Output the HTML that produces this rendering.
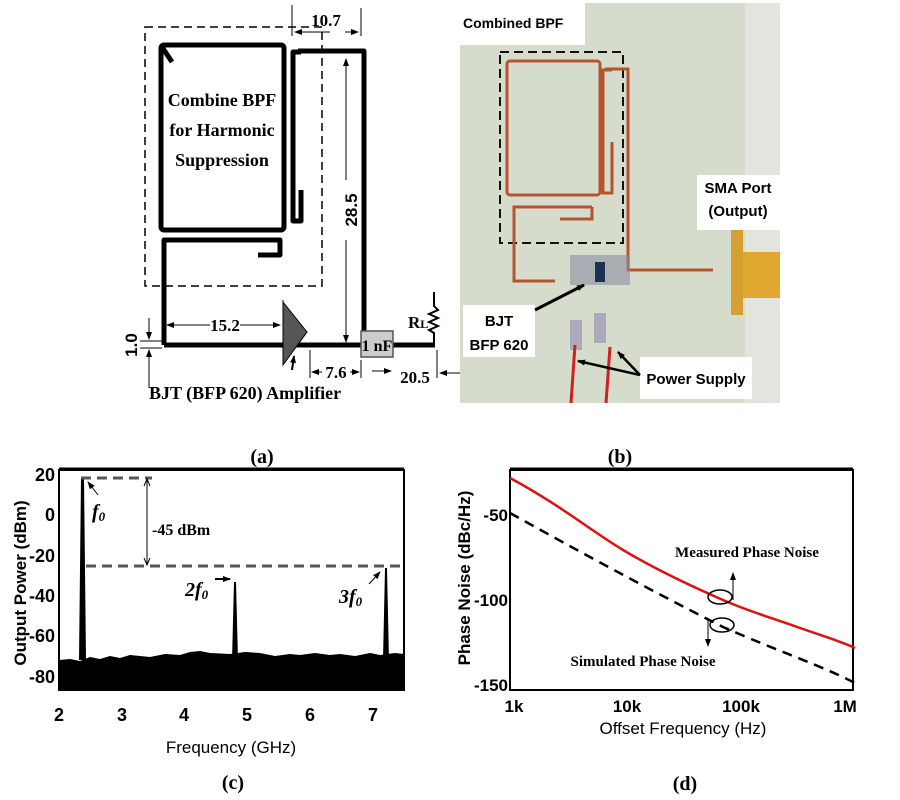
<!DOCTYPE html>
<html><head><meta charset="utf-8"><style>
html,body{margin:0;padding:0;background:#fff;}
svg{display:block;}
.ser{font-family:"Liberation Serif",serif;font-weight:bold;}
.san{font-family:"Liberation Sans",sans-serif;font-weight:bold;}
</style></head><body>
<svg width="900" height="800" viewBox="0 0 900 800" xmlns="http://www.w3.org/2000/svg">
<defs>
<marker id="ar" markerWidth="8" markerHeight="8" refX="7" refY="4" orient="auto" markerUnits="userSpaceOnUse"><path d="M0,1 L8,4 L0,7 Z" fill="#000"/></marker>
</defs>
<!-- (a) schematic -->
<rect x="145" y="27" width="177" height="259" fill="none" stroke="#000" stroke-width="1.5" stroke-dasharray="8,5"/>
<g fill="none" stroke="#000" stroke-width="5" stroke-linejoin="round">
<rect x="161" y="45" width="123" height="185" rx="3"/>
<line x1="162" y1="47" x2="172" y2="62"/>
<path d="M301,52 L293,52 L293,221 L301,221 L301,190"/>
<path d="M298,51 L364,51 L364,345"/>
<path d="M164,345 L164,240 L280,240 L280,255 L258,255"/>
<line x1="164" y1="345" x2="435" y2="345"/>
</g>
<polygon points="283,302 307,332 283,365" fill="#555" stroke="#000" stroke-width="1"/>
<rect x="361" y="331" width="32" height="26" fill="#ccc" stroke="#555" stroke-width="1.5"/>
<text x="377" y="351" class="ser" font-size="16" text-anchor="middle" font-weight="normal">1 nF</text>
<path d="M434,343 L434,333 L429,330 L438,326 L429,322 L438,318 L429,314 L438,310 L434,306 L434,292" fill="none" stroke="#000" stroke-width="2"/>
<text x="408" y="328" class="ser" font-size="17">R<tspan font-size="12">L</tspan></text>
<text x="222" y="106" class="ser" font-size="18" text-anchor="middle">Combine BPF</text>
<text x="222" y="136" class="ser" font-size="18" text-anchor="middle">for Harmonic</text>
<text x="222" y="166" class="ser" font-size="18" text-anchor="middle">Suppression</text>
<!-- dimensions -->
<line x1="292" y1="5" x2="292" y2="36" stroke="#000"/><line x1="361" y1="8" x2="361" y2="36" stroke="#000"/>
<line x1="330" y1="32" x2="295" y2="32" stroke="#000" marker-end="url(#ar)"/><line x1="345" y1="32" x2="358" y2="32" stroke="#000" marker-end="url(#ar)"/>
<text x="326" y="26" class="ser" font-size="17" text-anchor="middle">10.7</text>
<line x1="346" y1="180" x2="346" y2="59" stroke="#000" marker-end="url(#ar)"/><line x1="346" y1="240" x2="346" y2="342" stroke="#000" marker-end="url(#ar)"/>
<text transform="translate(357,210) rotate(-90)" class="san" font-size="17" text-anchor="middle">28.5</text>
<line x1="210" y1="325" x2="167" y2="325" stroke="#000" marker-end="url(#ar)"/><line x1="240" y1="325" x2="280" y2="325" stroke="#000" marker-end="url(#ar)"/>
<text x="225" y="331" class="ser" font-size="17" text-anchor="middle">15.2</text>
<line x1="283" y1="300" x2="283" y2="320" stroke="#000"/>
<line x1="310" y1="350" x2="310" y2="378" stroke="#000"/><line x1="361" y1="360" x2="361" y2="378" stroke="#000"/>
<line x1="322" y1="372" x2="312" y2="372" stroke="#000" marker-end="url(#ar)"/><line x1="350" y1="372" x2="359" y2="372" stroke="#000" marker-end="url(#ar)"/>
<text x="336" y="378" class="ser" font-size="17" text-anchor="middle">7.6</text>
<line x1="372" y1="371" x2="391" y2="371" stroke="#000" marker-end="url(#ar)"/>
<line x1="460" y1="373" x2="440" y2="373" stroke="#000" marker-end="url(#ar)"/>
<line x1="437" y1="350" x2="437" y2="378" stroke="#000"/>
<text x="415" y="383" class="ser" font-size="17" text-anchor="middle">20.5</text>
<line x1="292" y1="370" x2="294" y2="356" stroke="#000" stroke-width="2" marker-end="url(#ar)"/>
<line x1="140" y1="341" x2="162" y2="341" stroke="#000"/><line x1="140" y1="348" x2="162" y2="348" stroke="#000"/>
<line x1="149" y1="318" x2="149" y2="339" stroke="#000" marker-end="url(#ar)"/><line x1="149" y1="388" x2="149" y2="350" stroke="#000" marker-end="url(#ar)"/>
<text transform="translate(137,345) rotate(-90)" class="san" font-size="17" text-anchor="middle">1.0</text>
<text x="149" y="399" class="ser" font-size="18">BJT (BFP 620) Amplifier</text>
<!-- (b) photo -->
<rect x="460" y="3" width="320" height="400" fill="#d6dccc"/>
<rect x="745" y="3" width="35" height="400" fill="#e2e4de"/>
<rect x="500" y="52" width="123" height="191" fill="none" stroke="#111" stroke-width="2" stroke-dasharray="9,5"/>
<g fill="none" stroke="#b5532e" stroke-width="3">
<rect x="507" y="61" width="93" height="134" rx="3"/>
<path d="M612,70 L603,70 L603,193 L612,193 L612,142"/>
<path d="M605,69 L628,69 L628,270 L713,270"/>
<path d="M592,207 L514,207 L514,281 L555,281"/>
<path d="M592,207 L592,219 L560,219"/>
</g>
<rect x="570" y="255" width="60" height="30" fill="#8890a0" opacity="0.6"/>
<rect x="595" y="262" width="10" height="20" fill="#203050"/>
<rect x="731" y="230" width="12" height="85" fill="#d6a030"/>
<rect x="743" y="252" width="37" height="46" fill="#e0a830"/>
<rect x="570" y="320" width="12" height="30" fill="#aab"/><rect x="594" y="313" width="12" height="30" fill="#aab"/>
<path d="M575,345 L571,403 M610,347 L606,403" stroke="#d02020" stroke-width="3" fill="none"/>
<rect x="460" y="3" width="125" height="42" fill="#fff"/>
<text x="463" y="28" class="san" font-size="14">Combined BPF</text>
<rect x="697" y="175" width="83" height="55" fill="#fff"/>
<text x="738" y="193" class="san" font-size="15" text-anchor="middle">SMA Port</text>
<text x="738" y="216" class="san" font-size="15" text-anchor="middle">(Output)</text>
<rect x="463" y="305" width="72" height="52" fill="#fff"/>
<text x="499" y="326" class="san" font-size="15" text-anchor="middle">BJT</text>
<text x="499" y="350" class="san" font-size="15" text-anchor="middle">BFP 620</text>
<rect x="640" y="357" width="112" height="42" fill="#fff"/>
<text x="696" y="384" class="san" font-size="15" text-anchor="middle">Power Supply</text>
<line x1="535" y1="310" x2="584" y2="285" stroke="#000" stroke-width="3" marker-end="url(#ar)"/>
<line x1="640" y1="375" x2="578" y2="361" stroke="#000" stroke-width="2.5" marker-end="url(#ar)"/>
<line x1="640" y1="375" x2="618" y2="352" stroke="#000" stroke-width="2.5" marker-end="url(#ar)"/>
<line x1="440" y1="373" x2="460" y2="373" stroke="#000"/>
<text x="262" y="463" class="ser" font-size="20" font-weight="normal" text-anchor="middle">(a)</text>
<text x="620" y="463" class="ser" font-size="20" font-weight="normal" text-anchor="middle">(b)</text>
<!-- (c) -->
<path d="M59,690 L59,660 L70,659 L80,661 L90,657 L100,659 L110,656 L120,658 L130,655 L150,657 L165,654 L180,655 L190,652 L200,651 L210,653 L230,654 L245,652 L260,653 L275,656 L290,654 L300,655 L315,653 L330,655 L340,654 L355,656 L370,653 L380,655 L395,653 L404,654 L404,690 Z" fill="#000"/>
<path d="M79,660 L81,478 L84,478 L86,660 Z M232,660 L234,582 L236,582 L238,660 Z M383,660 L385,568 L387,568 L389,660Z" fill="#000"/>
<rect x="59" y="470" width="345" height="220" fill="none" stroke="#000" stroke-width="2"/>
<line x1="59" y1="469" x2="404" y2="469" stroke="#000" stroke-width="3"/>
<line x1="81" y1="478" x2="152" y2="478" stroke="#555" stroke-width="3" stroke-dasharray="10,6"/>
<line x1="86" y1="566" x2="404" y2="566" stroke="#555" stroke-width="3" stroke-dasharray="10,6"/>
<line x1="147" y1="480" x2="147" y2="564" stroke="#000"/>
<path d="M144,486 L147,479 L150,486 M144,558 L147,565 L150,558" fill="none" stroke="#000"/>
<text x="152" y="535" class="ser" font-size="16" font-weight="normal">-45 dBm</text>
<text x="92" y="518" class="ser" font-size="20" font-style="italic">f<tspan font-size="13" dy="3">0</tspan></text>
<line x1="98" y1="495" x2="88" y2="482" stroke="#000" marker-end="url(#ar)"/>
<text x="185" y="596" class="ser" font-size="20" font-style="italic">2f<tspan font-size="13" dy="3">0</tspan></text>
<line x1="215" y1="579" x2="230" y2="579" stroke="#000" stroke-width="2" marker-end="url(#ar)"/>
<text x="339" y="603" class="ser" font-size="20" font-style="italic">3f<tspan font-size="13" dy="3">0</tspan></text>
<line x1="369" y1="584" x2="380" y2="572" stroke="#000" marker-end="url(#ar)"/>
<g class="san" font-size="18" text-anchor="end">
<text x="55" y="481">20</text><text x="55" y="521">0</text><text x="55" y="562">-20</text><text x="55" y="602">-40</text><text x="55" y="642">-60</text><text x="55" y="683">-80</text>
</g>
<g class="san" font-size="18" text-anchor="middle">
<text x="59" y="721">2</text><text x="122" y="721">3</text><text x="184" y="721">4</text><text x="247" y="721">5</text><text x="310" y="721">6</text><text x="373" y="721">7</text>
</g>
<text x="231" y="753" font-family="Liberation Sans,sans-serif" font-size="17" text-anchor="middle">Frequency (GHz)</text>
<text transform="translate(26,583) rotate(-90)" class="san" font-size="17" text-anchor="middle">Output Power (dBm)</text>
<text x="233" y="789" class="ser" font-size="20" font-weight="normal" text-anchor="middle">(c)</text>
<!-- (d) -->
<rect x="510" y="470" width="343" height="220" fill="none" stroke="#000" stroke-width="2"/>
<line x1="510" y1="469" x2="853" y2="469" stroke="#000" stroke-width="3"/>
<path d="M510,478 C560,505 590,530 623,550 C660,572 700,590 723,600 C750,612 770,617 800,628 C820,635 840,641 855,648" fill="none" stroke="#e01010" stroke-width="2.5"/>
<path d="M510,513 C580,552 650,590 723,627 C780,652 820,665 855,683" fill="none" stroke="#000" stroke-width="2.5" stroke-dasharray="10,7"/>
<ellipse cx="720" cy="597" rx="12" ry="7" fill="none" stroke="#000" stroke-width="1.5"/>
<ellipse cx="722" cy="625" rx="12" ry="7" fill="none" stroke="#000" stroke-width="1.5"/>
<line x1="733" y1="600" x2="733" y2="573" stroke="#000" marker-end="url(#ar)"/>
<line x1="708" y1="620" x2="708" y2="646" stroke="#000" marker-end="url(#ar)"/>
<text x="747" y="557" class="ser" font-size="15" text-anchor="middle">Measured Phase Noise</text>
<text x="643" y="666" class="ser" font-size="15" text-anchor="middle">Simulated Phase Noise</text>
<g class="san" font-size="17" text-anchor="end">
<text x="508" y="521">-50</text><text x="508" y="606">-100</text><text x="508" y="691">-150</text>
</g>
<g class="san" font-size="17" text-anchor="middle">
<text x="514" y="712">1k</text><text x="627" y="712">10k</text><text x="741" y="712">100k</text><text x="845" y="712">1M</text>
</g>
<text x="683" y="734" font-family="Liberation Sans,sans-serif" font-size="17" text-anchor="middle">Offset Frequency (Hz)</text>
<text transform="translate(470,578) rotate(-90)" class="san" font-size="17" text-anchor="middle">Phase Noise (dBc/Hz)</text>
<text x="685" y="790" class="ser" font-size="20" font-weight="normal" text-anchor="middle">(d)</text>
</svg>
</body></html>
